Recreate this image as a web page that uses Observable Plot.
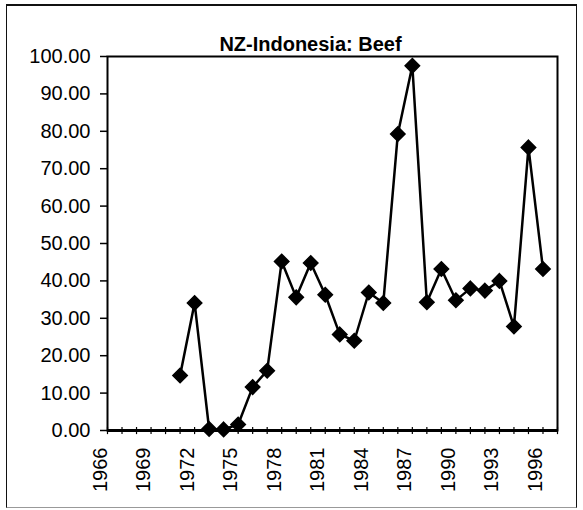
<!DOCTYPE html>
<html>
<head>
<meta charset="utf-8">
<script src="https://cdn.jsdelivr.net/npm/d3@7"></script>
<script src="https://cdn.jsdelivr.net/npm/@observablehq/plot@0.6"></script>
<style>
  html, body { margin: 0; padding: 0; background: #fff; }
  #wrap { position: relative; width: 583px; height: 510px; overflow: hidden; }
  #border { position: absolute; left: 6px; top: 4px; width: 571px; height: 504px;
            border: 1.5px solid #111; border-top-width: 2px; box-sizing: border-box; border-bottom-color: #999; }
  #chart { position: absolute; left: 0; top: 0; }
</style>
</head>
<body>
<div id="wrap"><div id="border"></div><div id="chart"></div></div>
<script>
const titleText = "NZ-Indonesia: Beef";
const years = [1971, 1972, 1973, 1974, 1975, 1976, 1977, 1978, 1979, 1980, 1981, 1982, 1983,
               1984, 1985, 1986, 1987, 1988, 1989, 1990, 1991, 1992, 1993, 1994, 1995, 1996];
const values = [14.7, 34.1, 0.4, 0.3, 1.6, 11.6, 16.0, 45.2, 35.6, 44.8, 36.3, 25.7, 24.0,
                36.9, 34.1, 79.3, 97.5, 34.3, 43.2, 34.8, 38.0, 37.4, 40.0, 27.8, 75.7, 43.2];
const xTickLabels = [1966, 1969, 1972, 1975, 1978, 1981, 1984, 1987, 1990, 1993, 1996];
const xMinorTicks = d3.range(1966, 1998);
const yTicks = [0, 10, 20, 30, 40, 50, 60, 70, 80, 90, 100];

const data = years.map((year, i) => ({year, value: values[i]}));

const chart = Plot.plot({
  width: 583,
  height: 510,
  marginLeft: 107,
  marginRight: 26,
  marginTop: 56,
  marginBottom: 80,
  style: {fontFamily: "'Liberation Sans', Arial, sans-serif", fontSize: "20px", color: "#000", background: "transparent"},
  x: {domain: [1966, 1997], axis: null},
  y: {domain: [0, 100], axis: null},
  marks: [
    Plot.frame({stroke: "#000", strokeWidth: 2}),
    Plot.axisY({ticks: yTicks, tickFormat: d => d.toFixed(2), tickSize: 7, tickPadding: 10,
                fontSize: 20, label: null, stroke: "#000", strokeWidth: 1.5}),
    Plot.ruleY([0], {stroke: "#000", strokeWidth: 3}),
    Plot.ruleX(xMinorTicks, {x: d => d, y1: -1.1, y2: 0.8, stroke: "#000", strokeWidth: 1.2}),
    Plot.text(xTickLabels, {x: d => d, text: d => String(d), frameAnchor: "bottom", rotate: -90,
                            textAnchor: "end", dy: 17, dx: -1, fontSize: 20, fill: "#000"}),
    Plot.line(data, {x: "year", y: "value", stroke: "#000", strokeWidth: 2.5}),
    Plot.dot(data, {x: "year", y: "value", symbol: "diamond2", r: 6.5, fill: "#000", stroke: "#000"}),
    Plot.text([titleText], {text: d => d, frameAnchor: "top", dy: -20, dx: -22, fontSize: 20,
                            fontWeight: "bold", fill: "#000"})
  ]
});
document.getElementById("chart").appendChild(chart);
</script>
</body>
</html>
